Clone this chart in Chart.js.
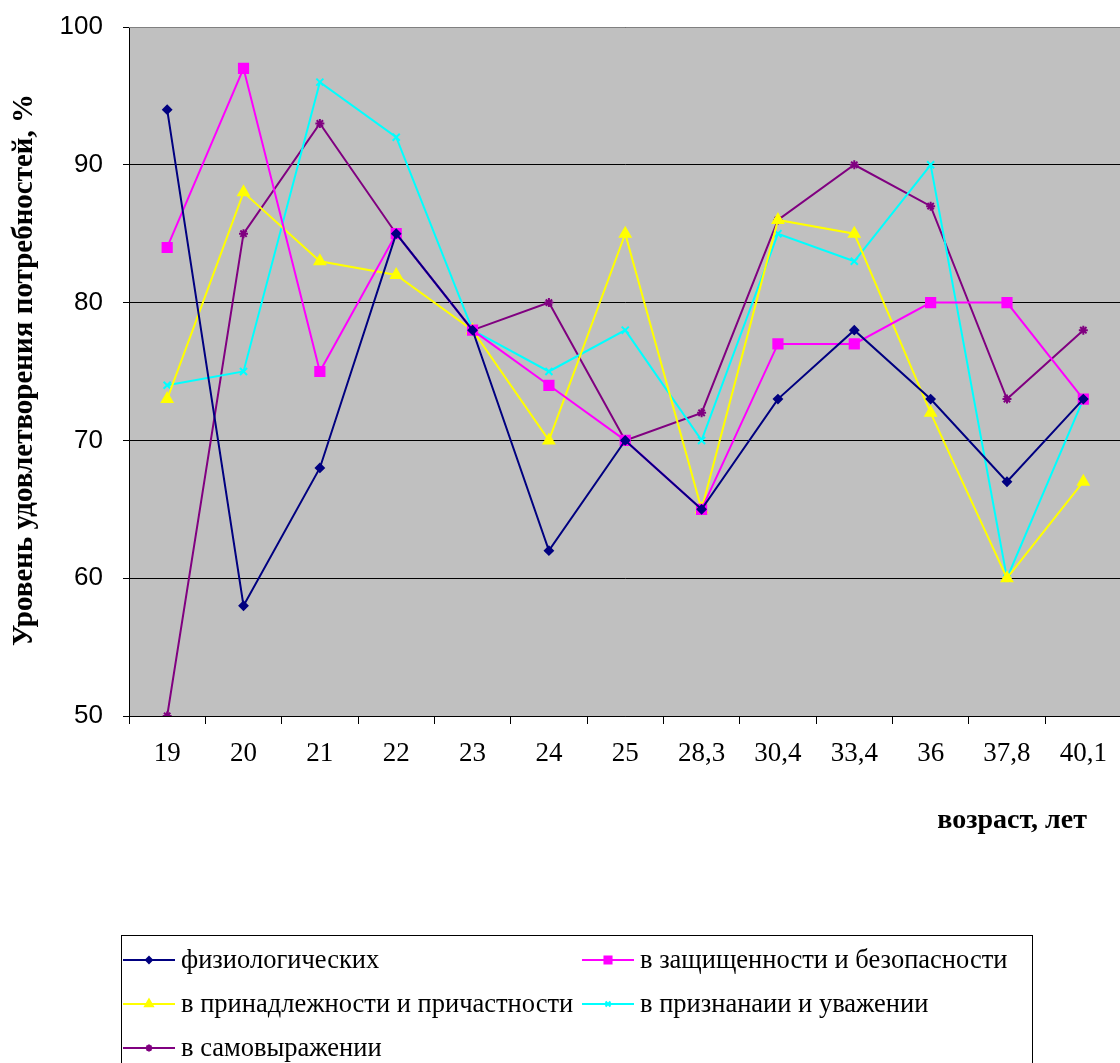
<!DOCTYPE html>
<html><head><meta charset="utf-8">
<script src="https://cdn.jsdelivr.net/npm/chart.js@4/dist/chart.umd.min.js"></script>
<style>html,body{margin:0;padding:0;overflow:hidden;background:#fff;width:1120px;height:1063px}#wrap{position:absolute;left:0;top:0;width:1130px;height:1063px}</style>
</head><body><div id="wrap"><canvas id="c" width="1130" height="1063"></canvas></div>
<script>
const categories = ['19','20','21','22','23','24','25','28,3','30,4','33,4','36','37,8','40,1'];
const physiological = [94,58,68,85,78,62,70,65,73,78,73,67,73];
const safety = [84,97,75,85,78,74,70,65,77,77,80,80,73];
const belonging = [73,88,83,82,78,70,85,65,86,85,72,60,67];
const esteem = [74,75,96,92,78,75,78,70,85,83,90,60,73];
const selfExpression = [50,85,93,85,78,80,70,72,86,90,87,73,78];
const seriesLabels = ['физиологических','в защищенности и безопасности','в принадлежности и причастности','в признанаии и уважении','в самовыражении'];
const yTicks = [50,60,70,80,90,100];
const yTitle = 'Уровень удовлетворения потребностей, %';
const xTitle = 'возраст, лет';

function ds(label, data, color, style, radius, legendRadius){
  return {label, data, borderColor:color, backgroundColor:color, borderWidth:2,
    pointStyle:style, pointRadius:radius, pointHoverRadius:radius, pointBorderWidth:2, tension:0, fill:false, legendRadius};
}
const datasets = [
  ds(seriesLabels[0], physiological, '#000080', 'rectRot', 4, 3),
  ds(seriesLabels[1], safety, '#FF00FF', 'rect', 6.5, 5),
  ds(seriesLabels[2], belonging, '#FFFF00', 'triangle', 6, 4.5),
  ds(seriesLabels[3], esteem, '#00FFFF', 'crossRot', 5, 3.5),
  ds(seriesLabels[4], selfExpression, '#800080', 'star', 4.5, 3.5)
];

const SERIF = '"Liberation Serif", "Times New Roman", serif';
const bgPlugin = {
  id:'bg',
  beforeDraw(chart){
    const {ctx, chartArea:a} = chart;
    ctx.save();
    ctx.fillStyle='#C0C0C0';
    ctx.fillRect(a.left,a.top,a.right-a.left,a.bottom-a.top);
    ctx.restore();
  },
  afterDraw(chart){
    const {ctx, chartArea:a} = chart;
    ctx.save();
    ctx.strokeStyle='#808080'; ctx.lineWidth=1;
    ctx.beginPath(); ctx.moveTo(a.left, a.top+0.5); ctx.lineTo(a.right, a.top+0.5); ctx.stroke();
    ctx.fillStyle='#000';
    ctx.font='bold 29px ' + SERIF;
    ctx.textAlign='center'; ctx.textBaseline='middle';
    ctx.translate(25, 370); ctx.rotate(-Math.PI/2);
    ctx.fillText(yTitle, 0, 0);
    ctx.restore();
    ctx.save();
    ctx.fillStyle='#000';
    ctx.font='bold 28px ' + SERIF;
    ctx.textAlign='right'; ctx.textBaseline='middle';
    ctx.fillText(xTitle, 1087, 821);
    const lx=121.5, ly=935.5;
    ctx.strokeStyle='#000'; ctx.lineWidth=1;
    ctx.strokeRect(lx, ly, 911, 140);
    ctx.font='26.5px ' + SERIF;
    ctx.textAlign='left';
    const pos = [[123,960],[582,960],[123,1004],[582,1004],[123,1048]];
    chart.data.datasets.forEach((d,i)=>{
      const [x,y]=pos[i];
      ctx.strokeStyle=d.borderColor; ctx.fillStyle=d.borderColor; ctx.lineWidth=2;
      ctx.beginPath(); ctx.moveTo(x,y); ctx.lineTo(x+52,y); ctx.stroke();
      Chart.helpers.drawPoint(ctx,{pointStyle:d.pointStyle, radius:d.legendRadius, borderWidth:2}, x+26, y);
      ctx.fillStyle='#000';
      ctx.fillText(d.label, x+58, y+1);
    });
    ctx.restore();
  }
};

new Chart(document.getElementById('c'), {
  type:'line',
  data:{labels:categories, datasets},
  plugins:[bgPlugin],
  options:{
    responsive:false, animation:false,
    layout:{padding:{left:0, top:27, right:4, bottom:0}},
    plugins:{legend:{display:false}, tooltip:{enabled:false}},
    scales:{
      x:{
        offset:true,
        grid:{display:true, drawOnChartArea:false, drawTicks:true, tickLength:8, tickColor:'#000', offset:true},
        border:{display:true, color:'#000', width:1},
        ticks:{color:'#000', font:{family:SERIF, size:27}, padding:14, maxRotation:0, autoSkip:false},
        afterFit(s){ s.height = 347; s.paddingLeft = 0; s.paddingRight = 0; }
      },
      y:{
        min:50, max:100,
        afterBuildTicks(s){ s.ticks = yTicks.map(v=>({value:v})); },
        grid:{color:'#000', lineWidth:1, tickLength:6, tickColor:'#000', drawTicks:true},
        border:{display:true, color:'#000', width:1},
        ticks:{color:'#000', font:{family:'"Liberation Sans", Arial, sans-serif', size:26}, padding:20},
        afterFit(s){ s.width = 129; s.paddingTop = 0; s.paddingBottom = 0; }
      }
    }
  }
});
</script></body></html>
